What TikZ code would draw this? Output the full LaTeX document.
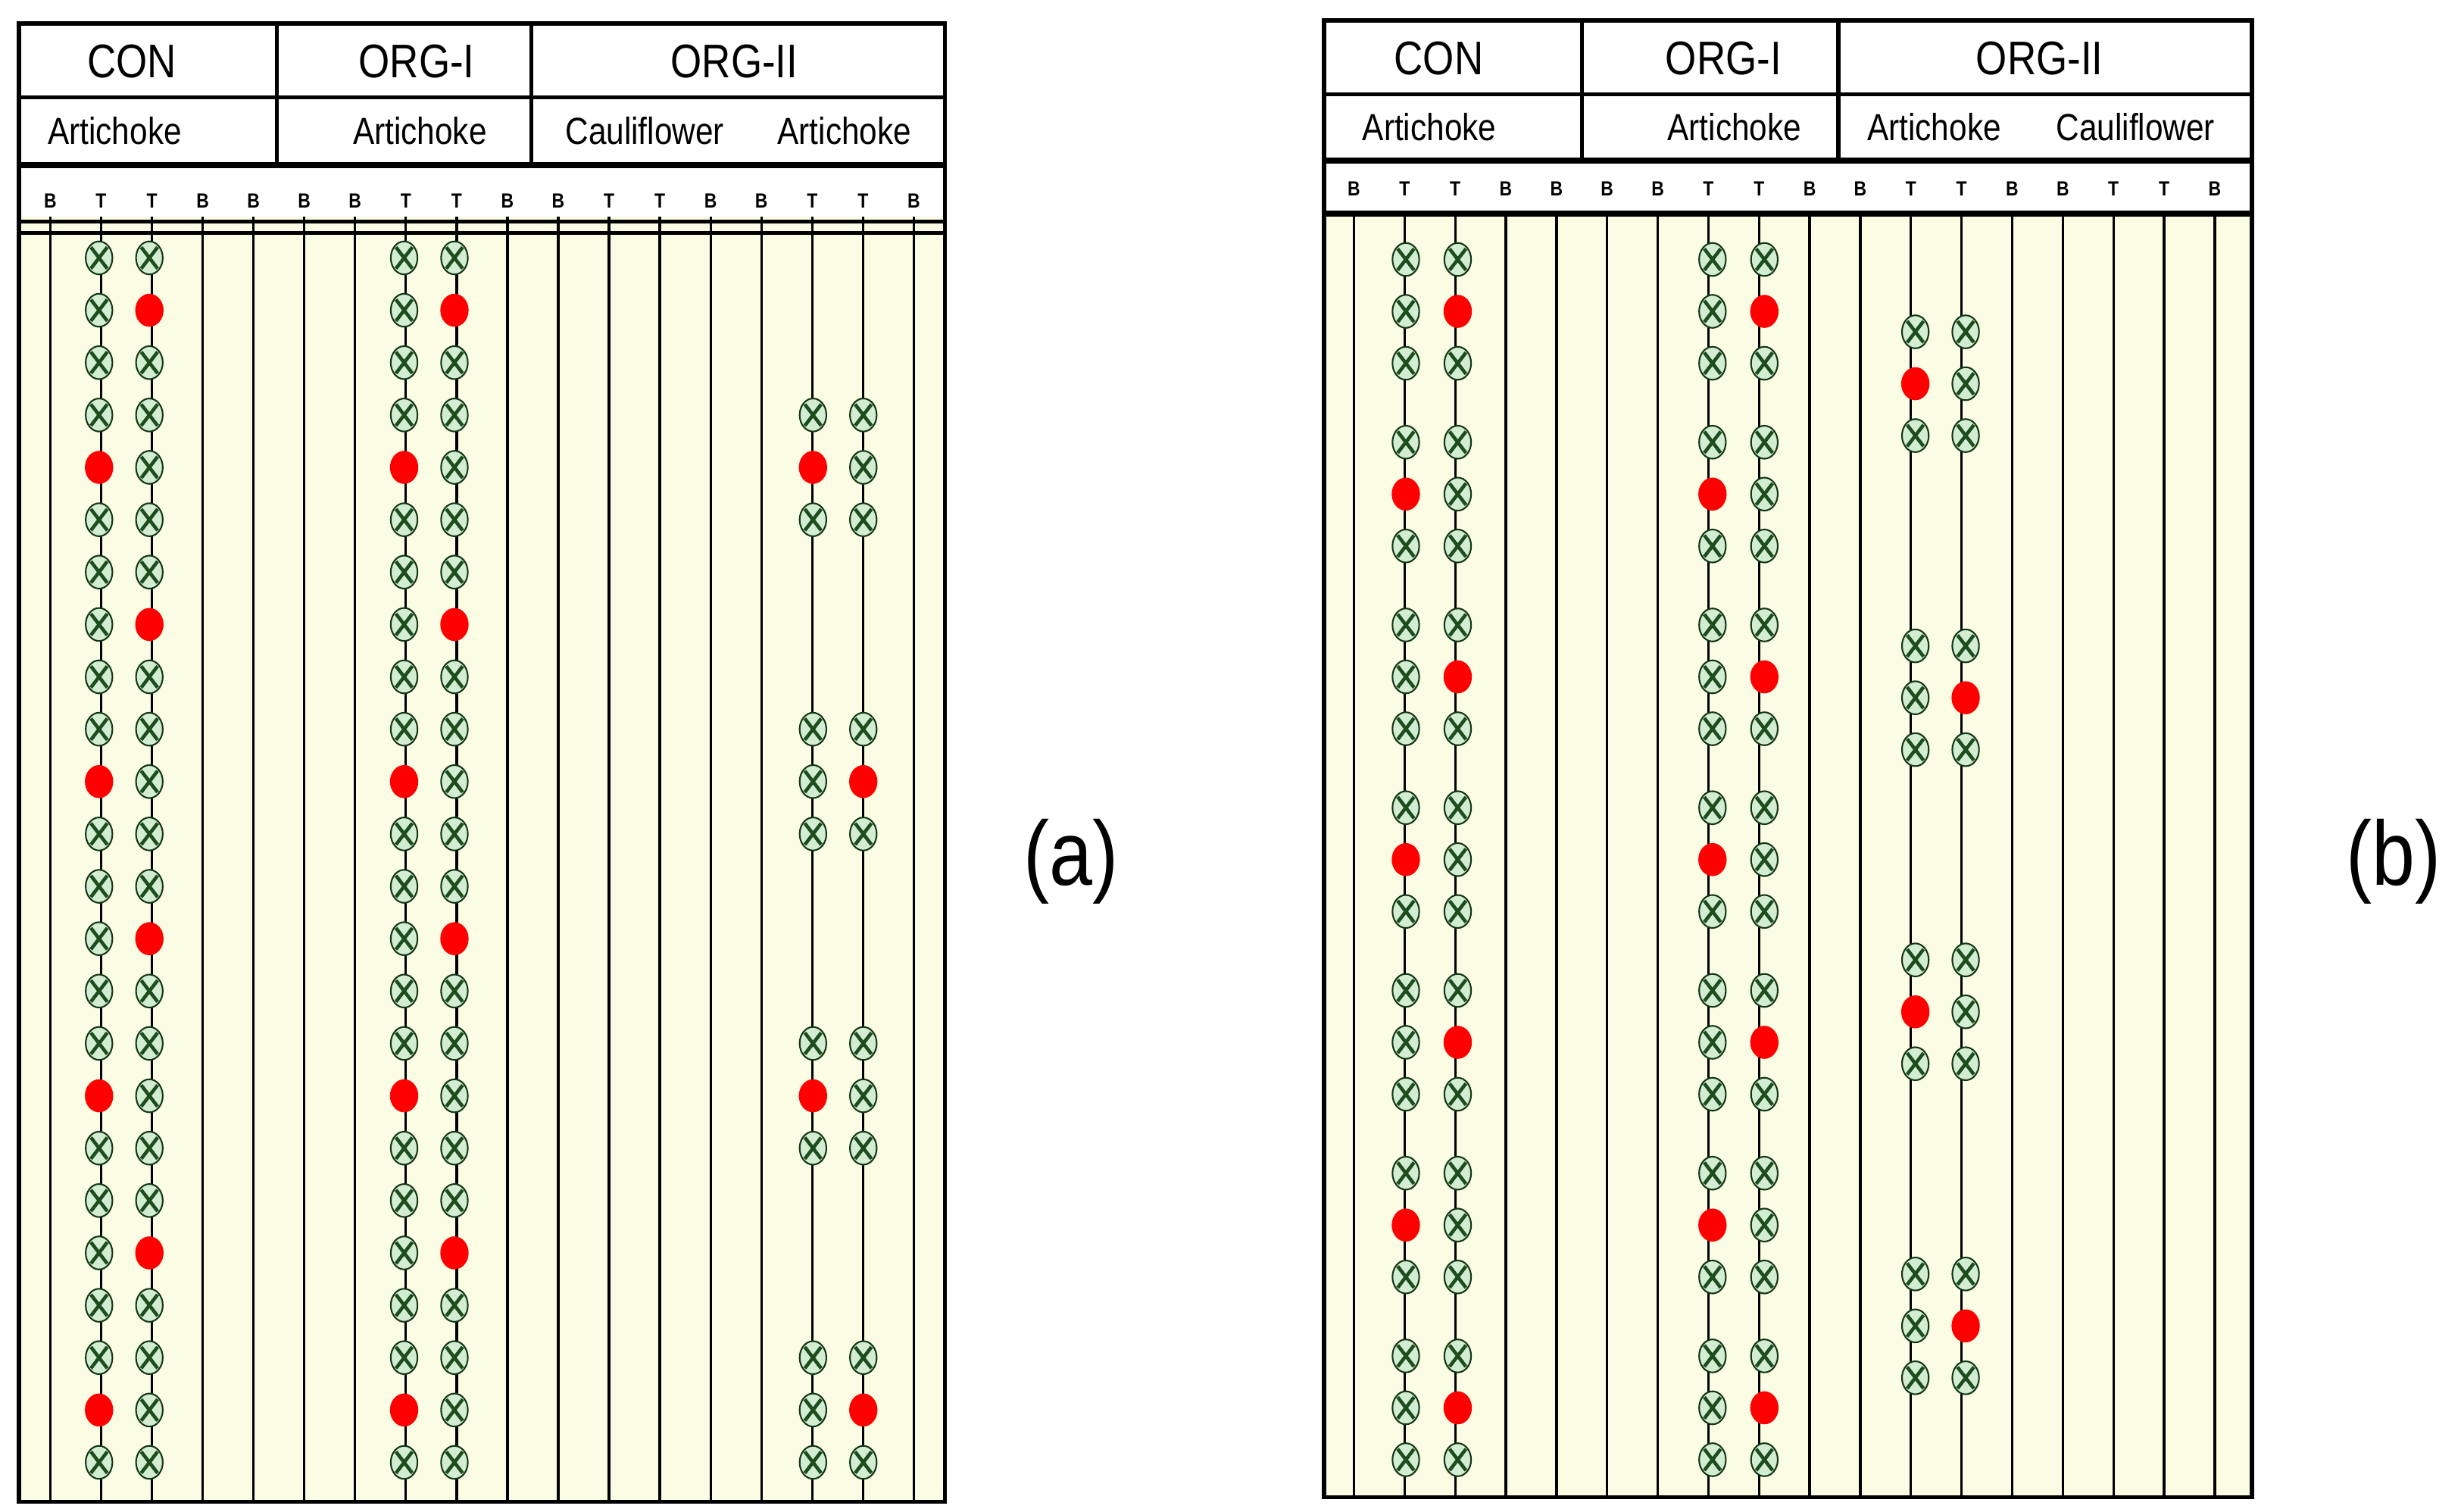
\documentclass[tikz,border=0pt]{standalone}
\usepackage{fontspec}
\setmainfont{Liberation Sans}[FakeStretch=0.85]
\usetikzlibrary{shapes.geometric}
\definecolor{bgy}{HTML}{FBFCE4}
\definecolor{mk}{HTML}{D3EDD2}
\definecolor{xg}{HTML}{1D4D1D}
\tikzset{
 ok/.style={ellipse,draw=xg!70!black,line width=0.5pt,fill=mk,minimum width=8.5pt,minimum height=10.5pt,inner sep=0pt,
  path picture={\draw[xg,line width=1.1pt] ([xshift=-2.6pt,yshift=-3.4pt]path picture bounding box.center)--([xshift=2.6pt,yshift=3.4pt]path picture bounding box.center)
  ([xshift=-2.6pt,yshift=3.4pt]path picture bounding box.center)--([xshift=2.6pt,yshift=-3.4pt]path picture bounding box.center);}},
 bad/.style={ellipse,fill=red,minimum width=9pt,minimum height=10.5pt,inner sep=0pt},
 col/.style={line width=0.8pt},
 frame/.style={line width=1.3pt},
 big/.style={font=\fontsize{15}{15}\selectfont},
 mid/.style={font=\fontsize{12}{12}\selectfont},
 sm/.style={font=\bfseries\fontsize{6.5}{6.5}\selectfont},
}
\begin{document}
\begin{tikzpicture}[x=0.5pt,y=-0.5pt]
\useasboundingbox (0,0) rectangle (1565,961);
% ---------------- panel (a)
\fill[white] (12,15) rectangle (601,138);
\fill[bgy] (12,138) rectangle (601,955);
\foreach \i [evaluate=\i as \x using 32+32.3*\i] in {0,...,17}
  \draw[col] (\x,138) -- (\x,955);
\draw[frame] (12,15) rectangle (601,955);
\draw[frame] (12,62) -- (601,62);
\draw[line width=2pt] (12,105) -- (601,105);
\draw[frame] (12,141) -- (601,141);
\draw[frame] (12,148) -- (601,148);
\draw[frame] (176,15) -- (176,105) (338,15) -- (338,105);
\node[big] (aCON) at (84,39) {CON};
\node[big] (aO1) at (265,39) {ORG-I};
\node[big] (aO2) at (467,39) {ORG-II};
\node[mid] (aA1) at (73,83) {Artichoke};
\node[mid] (aA2) at (267,83) {Artichoke};
\node[mid] (aC) at (410,83) {Cauliflower};
\node[mid] (aA3) at (537,83) {Artichoke};
\foreach \l [count=\k, evaluate=\k as \x using 32+32.3*(\k-1)] in {B,T,T,B,B,B,B,T,T,B,B,T,T,B,B,T,T,B}
  \node[sm] (aL\k) at (\x,128) {\l};
\foreach \x/\n in {63/a1,257/a3}{
 \foreach \i [evaluate=\i as \y using 164+33.3*(\i-1)] in {1,...,24}{
  \pgfmathtruncatemacro\m{mod(\i,6)}
  \ifnum\m=5 \def\st{bad}\else\def\st{ok}\fi
  \node[\st] (\n-\i) at (\x,\y) {};}}
\foreach \x/\n in {95/a2,289/a4}{
 \foreach \i [evaluate=\i as \y using 164+33.3*(\i-1)] in {1,...,24}{
  \pgfmathtruncatemacro\m{mod(\i,6)}
  \ifnum\m=2 \def\st{bad}\else\def\st{ok}\fi
  \node[\st] (\n-\i) at (\x,\y) {};}}
\foreach \i [evaluate=\i as \y using 164+33.3*(\i-1)] in {4,5,6,10,11,12,16,17,18,22,23,24}{
  \pgfmathtruncatemacro\m{mod(\i,12)}
  \ifnum\m=5 \def\st{bad}\else\def\st{ok}\fi
  \node[\st] (a5-\i) at (517,\y) {};
  \ifnum\m=11 \def\st{bad}\else\def\st{ok}\fi
  \node[\st] (a6-\i) at (549,\y) {};}
\node[font=\fontsize{29}{29}\selectfont] (la) at (681,548) {(a)};
% ---------------- panel (b)
\fill[white] (842,13) rectangle (1432,135);
\fill[bgy] (842,135) rectangle (1432,952);
\foreach \i [evaluate=\i as \x using 861+32.2*\i] in {0,...,17}
  \draw[col] (\x,135) -- (\x,952);
\draw[frame] (842,13) rectangle (1432,952);
\draw[frame] (842,60) -- (1432,60);
\draw[line width=2pt] (842,102) -- (1432,102);
\draw[line width=2pt] (842,136) -- (1432,136);
\draw[frame] (1006,13) -- (1006,102) (1169,13) -- (1169,102);
\node[big] (bCON) at (915,37) {CON};
\node[big] (bO1) at (1096,37) {ORG-I};
\node[big] (bO2) at (1297,37) {ORG-II};
\node[mid] (bA1) at (909,81) {Artichoke};
\node[mid] (bA2) at (1103,81) {Artichoke};
\node[mid] (bA3) at (1230,81) {Artichoke};
\node[mid] (bC) at (1358,81) {Cauliflower};
\foreach \l [count=\k, evaluate=\k as \x using 861+32.2*(\k-1)] in {B,T,T,B,B,B,B,T,T,B,B,T,T,B,B,T,T,B}
  \node[sm] (bL\k) at (\x,120) {\l};
\foreach \xa/\xb/\n in {894/927/b1,1089/1122/b3}{
 \foreach \g in {0,...,6}{
  \foreach \j in {0,1,2}{
   \pgfmathsetmacro\y{165+116.2*\g+33*\j}
   \pgfmathtruncatemacro\o{mod(\g,2)}
   \def\sa{ok}\def\sb{ok}
   \ifnum\j=1 \ifnum\o=1 \def\sa{bad}\else\def\sb{bad}\fi\fi
   \node[\sa] (\n a-\g-\j) at (\xa,\y) {};
   \node[\sb] (\n b-\g-\j) at (\xb,\y) {};}}}
\foreach \g in {0,...,3}{
  \foreach \j in {0,1,2}{
   \pgfmathsetmacro\y{211+199.7*\g+33*\j}
   \pgfmathtruncatemacro\o{mod(\g,2)}
   \def\sa{ok}\def\sb{ok}
   \ifnum\j=1 \ifnum\o=0 \def\sa{bad}\else\def\sb{bad}\fi\fi
   \node[\sa] (b5-\g-\j) at (1218,\y) {};
   \node[\sb] (b6-\g-\j) at (1250,\y) {};}}
\node[font=\fontsize{29}{29}\selectfont] (lb) at (1522,548) {(b)};
\end{tikzpicture}
\end{document}
